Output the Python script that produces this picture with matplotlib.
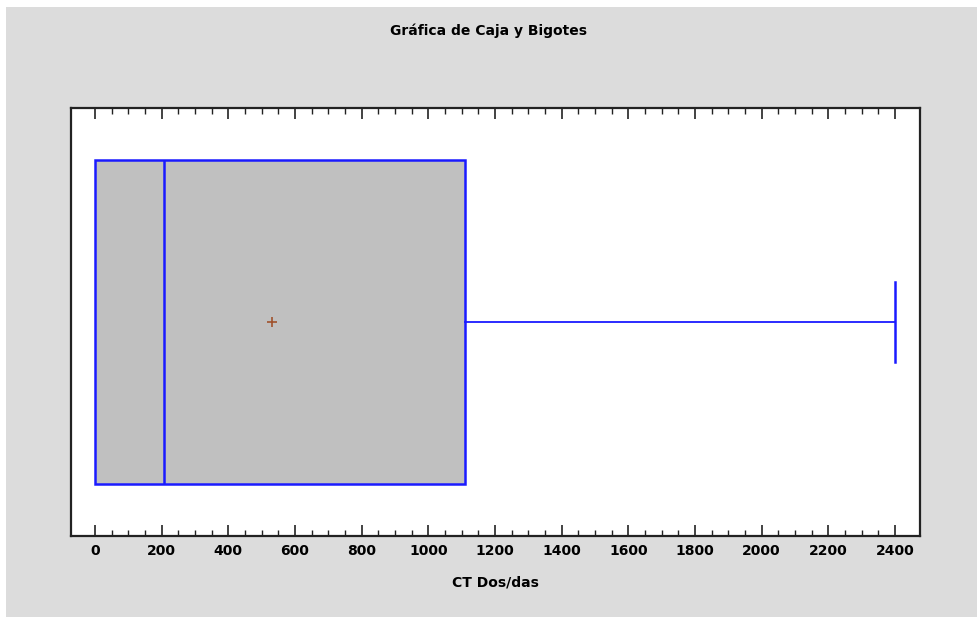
import numpy as np
import matplotlib.pyplot as plt
from matplotlib.patches import Rectangle
from matplotlib.ticker import FixedLocator

# Datos (CT Dos/das)
q1 = 0
mediana = 207
q3 = 1110
maximo = 2400
media = 530

titulo = "Gráfica de Caja y Bigotes"
etiqueta_x = "CT Dos/das"

W, H = 977, 617
fig = plt.figure(figsize=(W / 100, H / 100), dpi=100)
fig.patch.set_facecolor("white")
fig.patches.append(Rectangle((6 / W, 0), 1, (H - 7) / H, transform=fig.transFigure,
                             facecolor="#dcdcdc", edgecolor="none", zorder=-10))

ax = fig.add_axes([71 / W, (H - 536) / H, (920 - 71) / W, (536 - 108) / H])
ax.set_facecolor("white")

azul = "#1a1aff"
# caja y bigotes
bp = ax.bxp([{"med": mediana, "q1": q1, "q3": q3, "whislo": q1, "whishi": maximo,
              "mean": media, "fliers": []}],
            positions=[0.5], widths=0.755, capwidths=0.187, vert=False,
            patch_artist=True, showmeans=True, showcaps=True,
            boxprops=dict(facecolor="#c0c0c0", edgecolor=azul, linewidth=1.8),
            medianprops=dict(color=azul, linewidth=1.8),
            whiskerprops=dict(color=azul, linewidth=1.3),
            capprops=dict(color=azul, linewidth=1.8),
            meanprops=dict(marker="+", markeredgecolor="#a0522d", markersize=7,
                           markeredgewidth=1.2))
# el minimo coincide con Q1: sin bigote inferior visible
bp["caps"][0].set_visible(False)
bp["whiskers"][0].set_visible(False)

ax.set_xlim(-72, 2475)
ax.set_ylim(0, 1)
ax.set_yticks([])
ax.xaxis.set_major_locator(FixedLocator(np.arange(0, 2401, 200)))
ax.xaxis.set_minor_locator(FixedLocator(np.arange(0, 2401, 50)))
ax.tick_params(axis="x", which="both", direction="in", top=True, bottom=True,
               labelsize=10, pad=6, color="#222222")
ax.tick_params(axis="x", which="major", length=8, width=1.2)
ax.tick_params(axis="x", which="minor", length=4, width=1.0)
for lbl in ax.get_xticklabels():
    lbl.set_fontweight("bold")
for s in ax.spines.values():
    s.set_linewidth(1.6)
    s.set_color("#222222")

ax.set_xlabel(etiqueta_x, fontsize=10, fontweight="bold", labelpad=12)
fig.text(0.5, (H - 31) / H, titulo, ha="center", va="center",
         fontsize=10, fontweight="bold")

fig.savefig("out.png", dpi=100, facecolor=fig.get_facecolor())
